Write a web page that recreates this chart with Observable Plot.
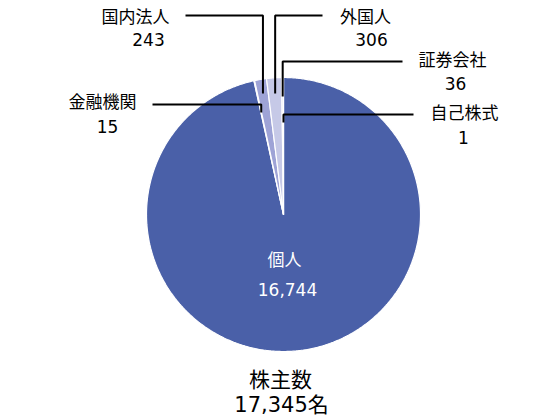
<!DOCTYPE html>
<html><head><meta charset="utf-8">
<script src="https://cdn.jsdelivr.net/npm/d3@7"></script>
<script src="https://cdn.jsdelivr.net/npm/@observablehq/plot@0.6"></script>
<style>body{margin:0;background:#fff}</style>
</head><body><div id="chart"></div>
<script>
// ---- data ----
const categories = ["個人", "金融機関", "国内法人", "外国人", "証券会社", "自己株式"];
const values = [16744, 15, 243, 306, 36, 1];
const colors = ["#4a60a8", "#8c92cb", "#9ea3d6", "#c6c9e7", "#d2d5ee", "#e3e5f4"];
const titleText = "株主数";
const unitText = "名";

// ---- layout (pixels) ----
const W = 560, H = 420, cx = 283, cy = 214, R = 137;
const nx = px => (px - cx) / R;
const ny = py => (cy - py) / R;
const labelLayout = {
  "個人":     {nameX: 284, nameY: 260, valX: 287, valY: 290, inside: true},
  "金融機関": {r: 0.762, lineY: 104, endX: 152, nameX: 102, nameY: 102, valX: 107, valY: 127},
  "国内法人": {r: 0.896, lineY: 15,  endX: 185, nameX: 135, nameY: 17,  valX: 148, valY: 40},
  "外国人":   {r: 0.885, lineY: 15,  endX: 322, nameX: 365, nameY: 17,  valX: 371, valY: 40},
  "証券会社": {r: 0.861, lineY: 61,  endX: 402, nameX: 452, nameY: 60,  valX: 455, valY: 84},
  "自己株式": {r: 0.672, lineY: 114, endX: 413, nameX: 464, nameY: 113, valX: 463, valY: 138}
};

const fmt = d3.format(",");
const rows = categories.map((c, i) => ({category: c, value: values[i]}));
const arcs = d3.pie().sort(null).value(d => d.value).startAngle(0).endAngle(2 * Math.PI)(rows);

const piePts = [];
for (const a of arcs) {
  const n = Math.max(2, Math.ceil((a.endAngle - a.startAngle) / (Math.PI / 360)));
  piePts.push({category: a.data.category, x: 0, y: 0});
  for (let k = 0; k <= n; k++) {
    const t = a.startAngle + (a.endAngle - a.startAngle) * k / n;
    piePts.push({category: a.data.category, x: Math.sin(t), y: Math.cos(t)});
  }
  piePts.push({category: a.data.category, x: 0, y: 0});
}

const leaderPts = [];
const nameLabels = [], valueLabels = [];
for (const a of arcs) {
  const c = a.data.category, L = labelLayout[c];
  nameLabels.push({x: nx(L.nameX), y: ny(L.nameY), text: c, inside: !!L.inside});
  valueLabels.push({x: nx(L.valX), y: ny(L.valY), text: fmt(a.data.value), inside: !!L.inside});
  if (L.inside) continue;
  const mid = (a.startAngle + a.endAngle) / 2;
  const ax = L.r * Math.sin(mid), ay = L.r * Math.cos(mid);
  leaderPts.push({category: c, x: ax, y: ay});
  leaderPts.push({category: c, x: ax, y: ny(L.lineY)});
  leaderPts.push({category: c, x: nx(L.endX), y: ny(L.lineY)});
}

const total = d3.sum(values);
const titleLabels = [
  {x: nx(280), y: ny(380), text: titleText},
  {x: nx(281), y: ny(405), text: fmt(total) + unitText}
];

const chart = Plot.plot({
  width: W, height: H, margin: 0,
  x: {domain: [-cx / R, (W - cx) / R], range: [0, W], axis: null},
  y: {domain: [-(H - cy) / R, cy / R], range: [H, 0], axis: null},
  color: {domain: categories, range: colors},
  style: {fontFamily: '"DejaVu Sans","Noto Sans CJK JP",sans-serif', background: "#fff"},
  marks: [
    Plot.line(piePts, {x: "x", y: "y", z: "category", fill: "category", stroke: "white", strokeWidth: 1.2, strokeLinejoin: "miter", curve: "linear"}),
    Plot.line(leaderPts, {x: "x", y: "y", z: "category", stroke: "black", strokeWidth: 2, strokeLinejoin: "miter", strokeLinecap: "butt", curve: "linear"}),
    Plot.text(nameLabels, {x: "x", y: "y", text: "text", fontSize: 17, fill: d => d.inside ? "white" : "black"}),
    Plot.text(valueLabels, {x: "x", y: "y", text: "text", fontSize: 17, fill: d => d.inside ? "white" : "black"}),
    Plot.text(titleLabels, {x: "x", y: "y", text: "text", fontSize: 21, fill: "black"})
  ]
});
document.getElementById("chart").appendChild(chart);
</script>
</body></html>
